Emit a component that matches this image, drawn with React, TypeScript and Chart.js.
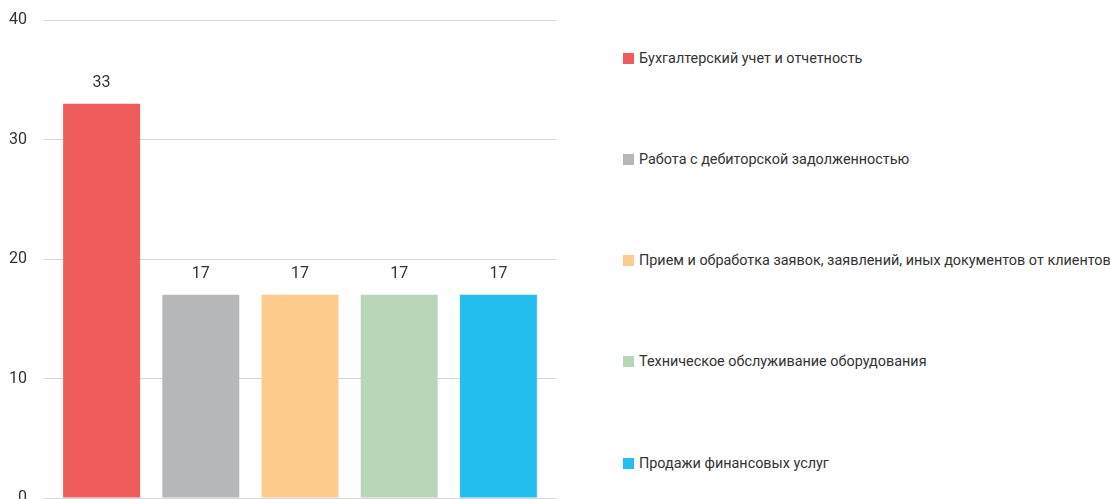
import React, { useEffect, useRef } from "react";
import { Chart, registerables } from "chart.js";

Chart.register(...registerables);

const categories = [
  "Бухгалтерский учет и отчетность",
  "Работа с дебиторской задолженностью",
  "Прием и обработка заявок, заявлений, иных документов от клиентов",
  "Техническое обслуживание оборудования",
  "Продажи финансовых услуг",
];
const values = [33, 17, 17, 17, 17];
const colors = ["#F05B5C", "#B6B7B9", "#FDCC8C", "#B9D6BA", "#23BDEE"];
const yTicks = [0, 10, 20, 30, 40];

const FONT = "Roboto, 'Noto Sans', sans-serif";
const TEXT = "#333333";
const GRID = "#D4D4D4";

const valueLabels = {
  id: "valueLabels",
  afterDatasetsDraw(chart: any) {
    const ctx = chart.ctx;
    const meta = chart.getDatasetMeta(0);
    ctx.save();
    ctx.font = `16px ${FONT}`;
    ctx.fillStyle = TEXT;
    ctx.textAlign = "center";
    ctx.textBaseline = "middle";
    meta.data.forEach((bar: any, i: number) => {
      ctx.fillText(String(values[i]), bar.x, bar.y - 21);
    });
    ctx.restore();
  },
};

export default function App() {
  const ref = useRef<HTMLCanvasElement>(null);
  useEffect(() => {
    const chart = new Chart(ref.current!, {
      type: "bar",
      data: {
        labels: categories,
        datasets: [
          {
            data: values,
            backgroundColor: colors,
            categoryPercentage: 1,
            barPercentage: 0.776,
          },
        ],
      },
      options: {
        animation: false,
        responsive: false,
        maintainAspectRatio: false,
        layout: { padding: { top: 20, bottom: 22, left: 0, right: 0 } },
        plugins: { legend: { display: false }, tooltip: { enabled: false } },
        scales: {
          x: { display: false },
          y: {
            position: "left",
            min: yTicks[0],
            max: yTicks[yTicks.length - 1],
            afterBuildTicks: (s: any) => {
              s.ticks = yTicks.map((v) => ({ value: v }));
            },
            afterFit: (s: any) => {
              s.width = 52;
              s.paddingTop = 0;
              s.paddingBottom = 0;
            },
            border: { display: false },
            grid: { color: GRID, lineWidth: 1, drawTicks: true, tickLength: 8, tickColor: GRID },
            ticks: { padding: 17, color: TEXT, font: { size: 16, family: FONT } },
          },
          y2: {
            position: "right",
            min: yTicks[0],
            max: yTicks[yTicks.length - 1],
            afterBuildTicks: (s: any) => {
              s.ticks = yTicks.map((v) => ({ value: v }));
            },
            afterFit: (s: any) => {
              s.width = 22;
              s.paddingTop = 0;
              s.paddingBottom = 0;
            },
            border: { display: false },
            grid: { drawOnChartArea: false, drawTicks: true, tickLength: 8, tickColor: GRID, color: GRID },
            ticks: { display: false },
          },
        },
      },
      plugins: [valueLabels],
    });
    return () => chart.destroy();
  }, []);

  return (
    <div
      style={{
        position: "fixed",
        left: 0,
        top: 0,
        width: 1110,
        height: 499,
        overflow: "hidden",
        background: "#fff",
      }}
    >
      <canvas
        ref={ref}
        width={570}
        height={520}
        style={{ position: "absolute", left: 0, top: 0, width: 570, height: 520 }}
      />
      {categories.map((c, i) => (
        <div
          key={c}
          style={{
            position: "absolute",
            left: 623,
            top: 58 + i * 101.25 - 10,
            height: 20,
            display: "flex",
            alignItems: "center",
            whiteSpace: "nowrap",
            fontFamily: FONT,
            fontSize: 14.4,
            color: TEXT,
          }}
        >
          <span
            style={{
              display: "inline-block",
              width: 11,
              height: 11,
              background: colors[i],
              marginRight: 5,
              flex: "none",
            }}
          />
          <span>{c}</span>
        </div>
      ))}
    </div>
  );
}
